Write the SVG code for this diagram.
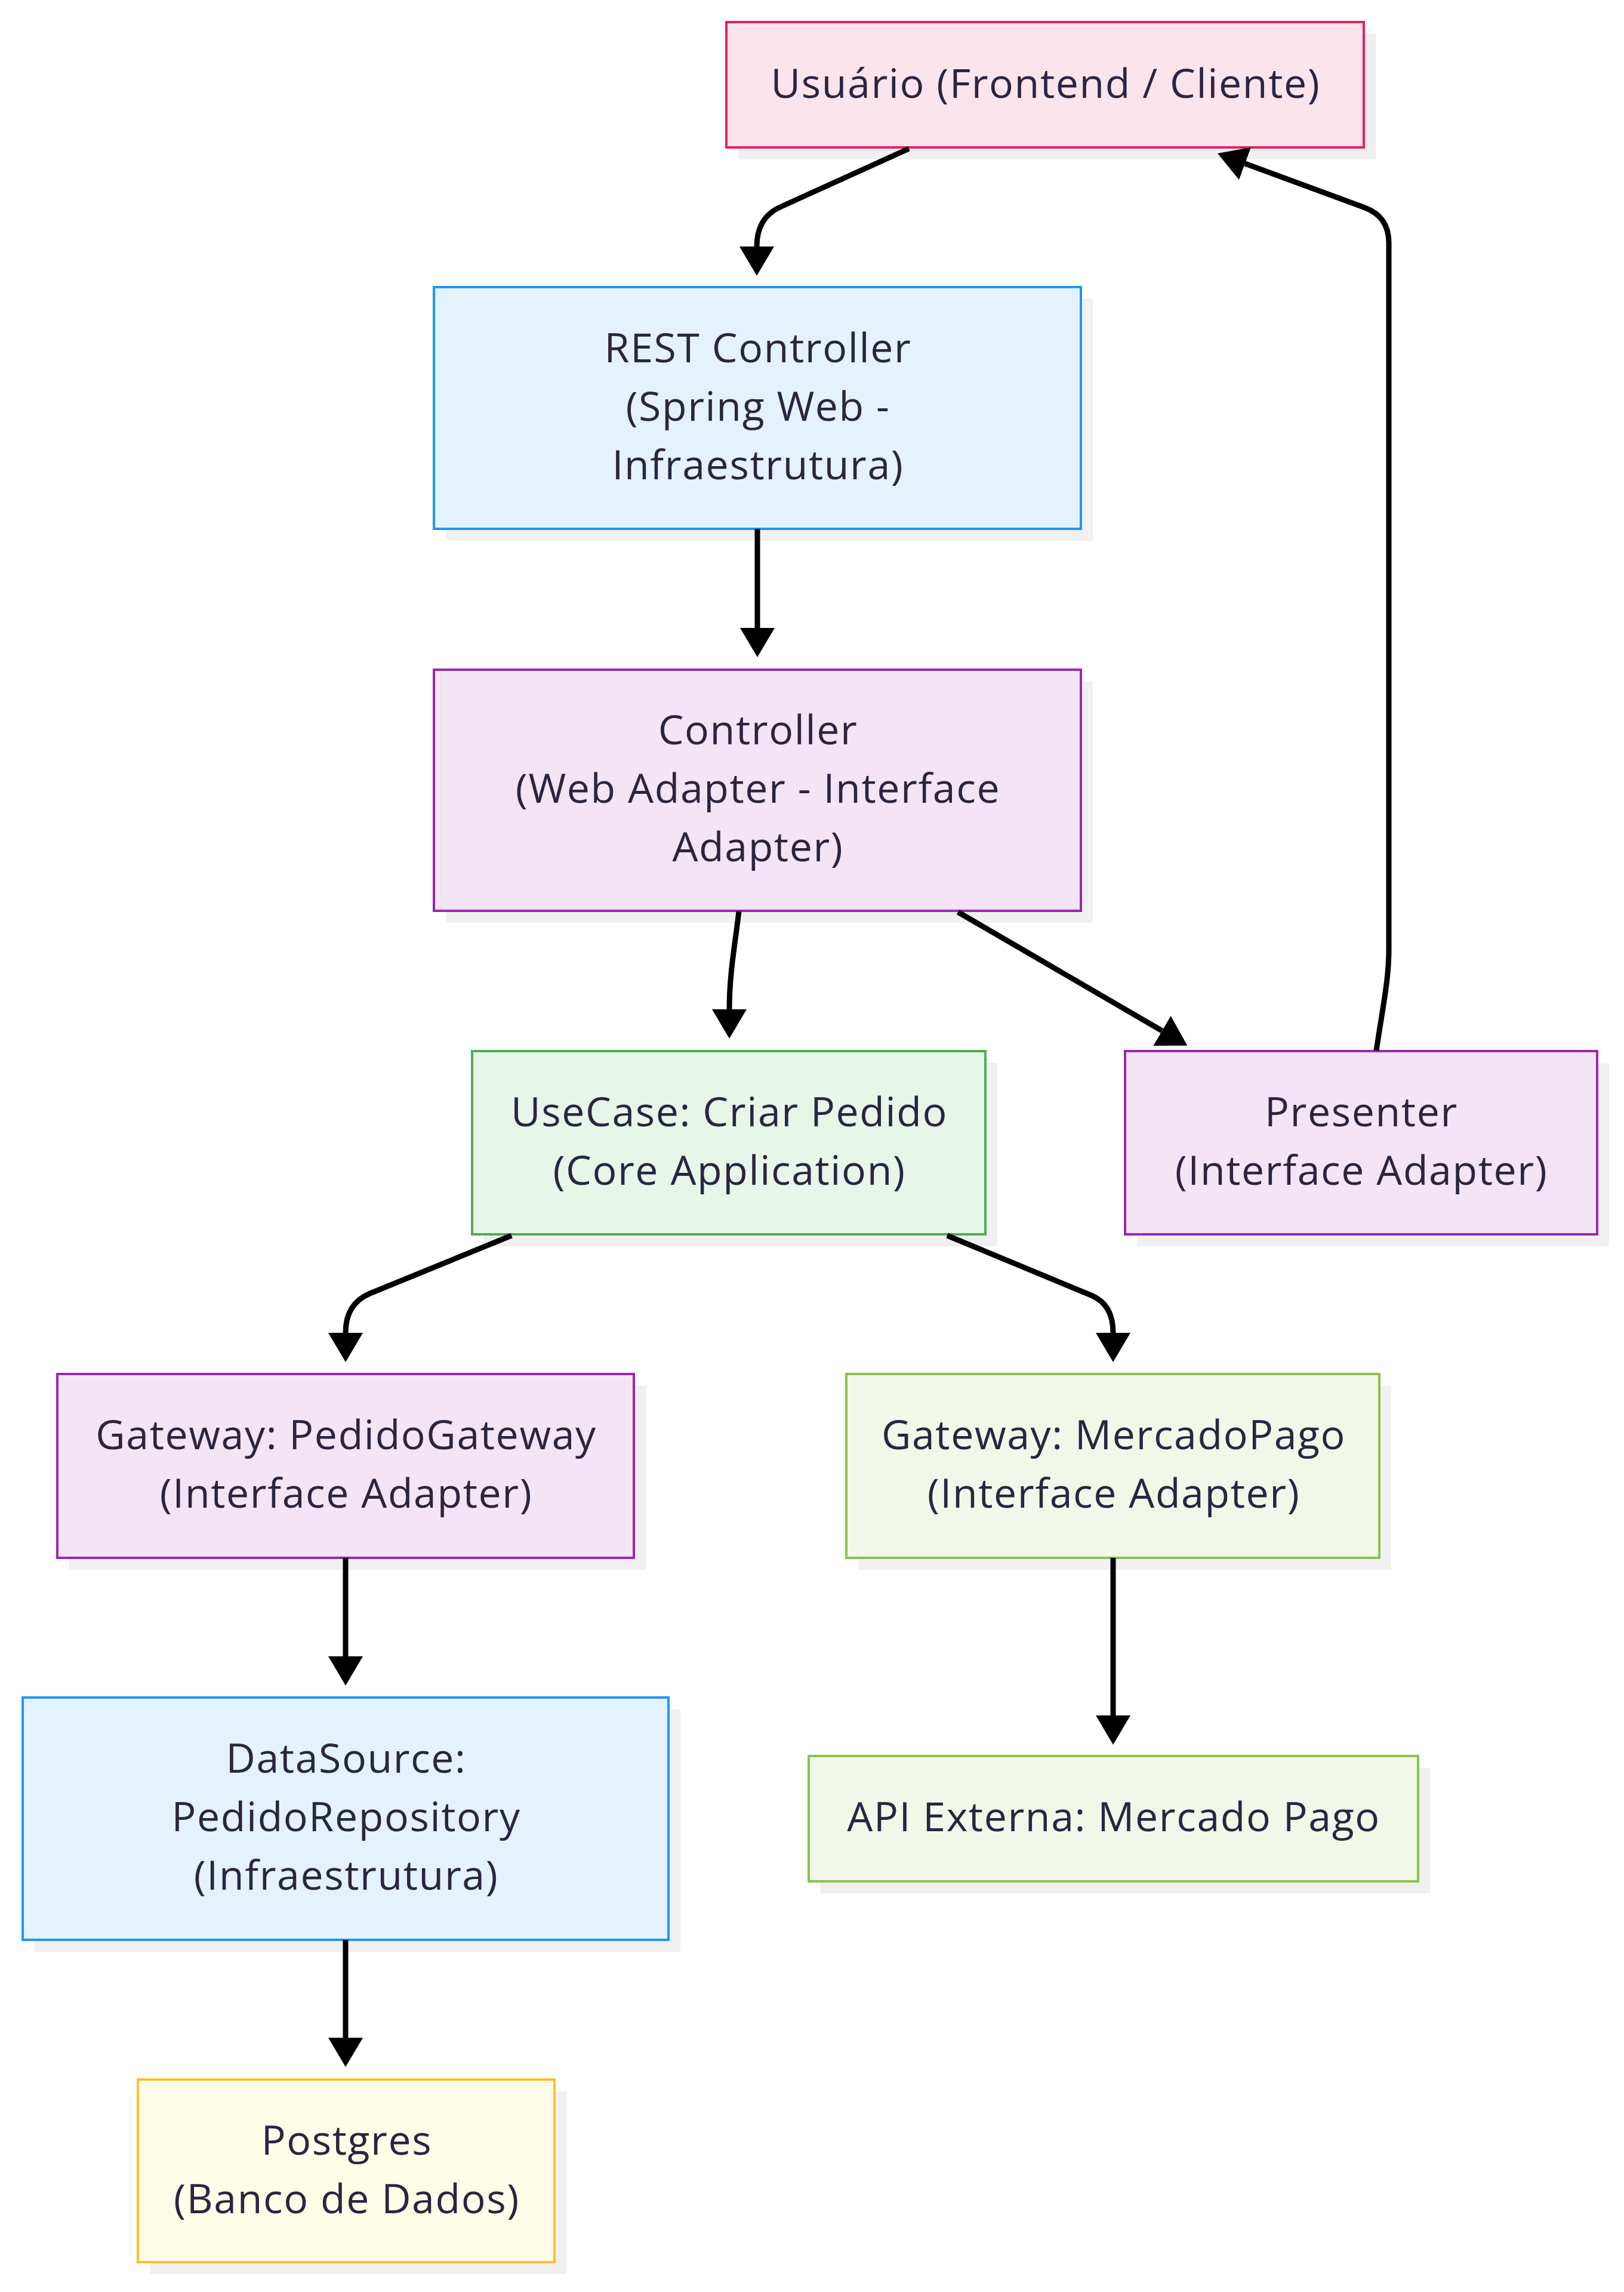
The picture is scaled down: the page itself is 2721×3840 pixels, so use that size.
<svg xmlns="http://www.w3.org/2000/svg" width="2721" height="3840" viewBox="0 0 2721 3840">
<style>
.shadow{fill:#f0f0f0;}
.node rect.box{stroke-width:4;}
.node text{font-family:"Open Sans","Noto Sans","Liberation Sans",sans-serif;font-size:68px;letter-spacing:1.6px;fill:#2a2540;text-anchor:middle;}
.pink{fill:#FCE4EC;stroke:#E91E63;}
.blue{fill:#E3F2FD;stroke:#2196F3;}
.purple{fill:#F3E5F5;stroke:#9C27B0;}
.green{fill:#E8F5E9;stroke:#4CAF50;}
.lime{fill:#F1F8E9;stroke:#8BC34A;}
.yellow{fill:#FFFDE7;stroke:#FBC02D;}
.edge{fill:none;stroke:#000;stroke-width:9;marker-end:url(#arrow);}
</style>
<defs>
<marker id="arrow" markerUnits="userSpaceOnUse" viewBox="0 0 49 58" refX="0" refY="29" markerWidth="49" markerHeight="58" orient="auto">
<path d="M0,0 L49,29 L0,58 Z" fill="#000"/>
</marker>
</defs>
<rect width="2721" height="3840" fill="#ffffff"/>
<g id="shadows">
<rect class="shadow" x="1237" y="57" width="1068" height="210"/>
<rect class="shadow" x="747" y="501" width="1084" height="405"/>
<rect class="shadow" x="747" y="1142" width="1084" height="404"/>
<rect class="shadow" x="811" y="1781" width="860" height="307"/>
<rect class="shadow" x="1905" y="1781" width="791" height="307"/>
<rect class="shadow" x="116" y="2322" width="966" height="308"/>
<rect class="shadow" x="1438" y="2322" width="893" height="308"/>
<rect class="shadow" x="58" y="2864" width="1082" height="406"/>
<rect class="shadow" x="1375" y="2962" width="1021" height="210"/>
<rect class="shadow" x="251" y="3504" width="698" height="306"/>
</g>
<g id="usuario" class="node">
<rect class="box pink" x="1217" y="37" width="1068" height="210"/>
<text x="1752" y="164">Usuário (Frontend / Cliente)</text>
</g>
<g id="rest" class="node">
<rect class="box blue" x="727" y="481" width="1084" height="405"/>
<text x="1270" y="607">REST Controller</text>
<text x="1270" y="705">(Spring Web -</text>
<text x="1270" y="803">Infraestrutura)</text>
</g>
<g id="controller" class="node">
<rect class="box purple" x="727" y="1122" width="1084" height="404"/>
<text x="1270" y="1247">Controller</text>
<text x="1270" y="1345">(Web Adapter - Interface</text>
<text x="1270" y="1443">Adapter)</text>
</g>
<g id="usecase" class="node">
<rect class="box green" x="791" y="1761" width="860" height="307"/>
<text x="1222" y="1887">UseCase: Criar Pedido</text>
<text x="1222" y="1985">(Core Application)</text>
</g>
<g id="presenter" class="node">
<rect class="box purple" x="1885" y="1761" width="791" height="307"/>
<text x="2281" y="1887">Presenter</text>
<text x="2281" y="1985">(Interface Adapter)</text>
</g>
<g id="gateway-pedido" class="node">
<rect class="box purple" x="96" y="2302" width="966" height="308"/>
<text x="580" y="2428">Gateway: PedidoGateway</text>
<text x="580" y="2526">(Interface Adapter)</text>
</g>
<g id="gateway-mp" class="node">
<rect class="box lime" x="1418" y="2302" width="893" height="308"/>
<text x="1866" y="2428">Gateway: MercadoPago</text>
<text x="1866" y="2526">(Interface Adapter)</text>
</g>
<g id="datasource" class="node">
<rect class="box blue" x="38" y="2844" width="1082" height="406"/>
<text x="580" y="2970">DataSource:</text>
<text x="580" y="3068">PedidoRepository</text>
<text x="580" y="3166">(Infraestrutura)</text>
</g>
<g id="api" class="node">
<rect class="box lime" x="1355" y="2942" width="1021" height="210"/>
<text x="1866" y="3068">API Externa: Mercado Pago</text>
</g>
<g id="postgres" class="node">
<rect class="box yellow" x="231" y="3484" width="698" height="306"/>
<text x="581" y="3610">Postgres</text>
<text x="581" y="3708">(Banco de Dados)</text>
</g>
<g id="connectors">
<path class="edge" d="M1523,249 L1307,347 Q1268,365 1268,413"/>
<path class="edge" d="M1269,886 L1269,1052"/>
<path class="edge" d="M1238,1527 C1232,1580 1222,1630 1222,1691"/>
<path class="edge" d="M1605,1528 L1947,1727"/>
<path class="edge" d="M2306,1760 C2318,1680 2327,1640 2327,1590 L2327,407 Q2327,363 2287,348 L2086,274"/>
<path class="edge" d="M857,2070 L620,2167 Q579,2184 579,2233"/>
<path class="edge" d="M1587,2070 L1828,2170 Q1865,2185 1865,2233"/>
<path class="edge" d="M579,2610 L579,2775"/>
<path class="edge" d="M1865,2610 L1865,2874"/>
<path class="edge" d="M579,3250 L579,3414"/>
</g>
</svg>
